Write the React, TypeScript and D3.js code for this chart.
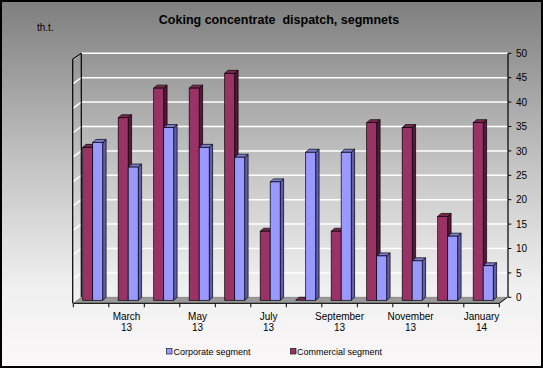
import React from "react";
import * as d3 from "d3";

const months = ["Feb 13", "Mar 13", "Apr 13", "May 13", "Jun 13", "Jul 13", "Aug 13", "Sep 13", "Oct 13", "Nov 13", "Dec 13", "Jan 14"];
const tickLabels: Record<string, [string, string]> = {
  "Mar 13": ["March", "13"],
  "May 13": ["May", "13"],
  "Jul 13": ["July", "13"],
  "Sep 13": ["September", "13"],
  "Nov 13": ["November", "13"],
  "Jan 14": ["January", "14"],
};
const commercial = [31, 37, 43, 43, 46, 14, 0, 14, 36, 35, 17, 36];
const corporate = [32, 27, 35, 31, 29, 24, 30, 30, 9, 8, 13, 7];
const yTicks = [0, 5, 10, 15, 20, 25, 30, 35, 40, 45, 50];

const W = 543, H = 368;
const DX = 8, DY = 6; // full depth of floor/walls
const BDX = 3.4, BDY = 3; // bar depth
const BAR_W = 10;
const BAR_OFF = 9.4;

const COLORS = {
  com: { front: "#993366", top: "#7a2950", side: "#55183a" },
  cor: { front: "#9999ff", top: "#7d7dd6", side: "#5f5fae" },
};

export default function App() {
  const x = d3.scaleBand<string>().domain(months).range([73.3, 499.3]).padding(0);
  const y = d3.scaleLinear().domain([0, 50]).range([297.3, 53.3]);
  const yBar = d3.scaleLinear().domain([0, 50]).range([300.3, 53.6]);
  const frontY = y(0) + DY;
  const x0 = x.range()[0];
  const x1 = x.range()[1];
  const backL = x0 + DX;
  const backR = x1 + DX;
  const barBottom = yBar(0);

  const bar = (xl: number, v: number, c: { front: string; top: string; side: string }, key: string) => {
    const yt = yBar(v);
    const top = `M${xl},${yt}L${xl + BAR_W},${yt}L${xl + BAR_W + BDX},${yt - BDY}L${xl + BDX},${yt - BDY}Z`;
    const side = `M${xl + BAR_W},${yt}L${xl + BAR_W + BDX},${yt - BDY}L${xl + BAR_W + BDX},${barBottom - BDY}L${xl + BAR_W},${barBottom}Z`;
    return (
      <g key={key}>
        {v > 0 && <path d={side} fill={c.side} stroke="#000" strokeWidth={0.7} />}
        <path d={top} fill={c.top} stroke="#000" strokeWidth={0.7} />
        {v > 0 && (
          <rect x={xl} y={yt} width={BAR_W} height={Math.max(0, barBottom - yt)} fill={c.front} stroke="#000" strokeWidth={0.7} />
        )}
      </g>
    );
  };

  const boundaries = d3.range(months.length + 1).map((i) => x0 + i * x.step());

  return (
    <svg width={W} height={H} style={{ position: "absolute", left: 0, top: 0 }} fontFamily="Arial, 'Liberation Sans', sans-serif">
      <defs>
        <linearGradient id="bg" x1="0" y1="0" x2="0" y2="1">
          <stop offset="0" stopColor="#7e7e7e" />
          <stop offset="0.45" stopColor="#c4c4c4" />
          <stop offset="0.78" stopColor="#f0f0f0" />
          <stop offset="1" stopColor="#fbf8fa" />
        </linearGradient>
      </defs>
      <rect x={0} y={0} width={W} height={H} fill="url(#bg)" />
      <rect x={1} y={1} width={W - 2} height={H - 2} fill="none" stroke="#000" strokeWidth={2} />

      <text x={279} y={24} textAnchor="middle" fontSize={12.5} fontWeight="bold" fill="#000" style={{ whiteSpace: "pre" }}>
        Coking concentrate  dispatch, segmnets
      </text>
      <text x={37} y={31} fontSize={10} fill="#000">th.t.</text>

      {/* gridlines on back wall and left wall */}
      {yTicks.filter((t) => t > 0).map((t) => (
        <g key={"g" + t}>
          <line x1={backL} x2={backR + 1} y1={y(t)} y2={y(t)} stroke="#fff" strokeWidth={1.5} />
          <line x1={x0} x2={backL} y1={y(t) + DY} y2={y(t)} stroke="#fff" strokeWidth={1.5} />
        </g>
      ))}

      {/* left wall edges */}
      <line x1={x0 - 0.6} x2={x0 - 0.6} y1={y(50) + DY} y2={frontY} stroke="#000" strokeWidth={1.2} />
      <line x1={backL} x2={backL} y1={y(50)} y2={y(0)} stroke="#000" strokeWidth={1.2} />
      <line x1={x0 - 0.6} x2={backL} y1={y(50) + DY} y2={y(50)} stroke="#000" strokeWidth={1.2} />

      {/* floor */}
      <path d={`M${x0},${frontY}L${x1},${frontY}L${backR},${y(0)}L${backL},${y(0)}Z`} fill="#999" stroke="#666" strokeWidth={0.5} />
      <line x1={x0} x2={x1} y1={frontY} y2={frontY} stroke="#000" strokeWidth={1} />
      <line x1={x1} x2={backR} y1={frontY} y2={y(0)} stroke="#000" strokeWidth={1} />
      {boundaries.map((bx, i) => (
        <line key={"t" + i} x1={bx} x2={bx} y1={frontY} y2={frontY + 4} stroke="#000" strokeWidth={1} />
      ))}

      {/* right value axis */}
      <line x1={backR + 0.7} x2={backR + 0.7} y1={y(50)} y2={y(0)} stroke="#000" strokeWidth={1.2} />
      {yTicks.map((t) => (
        <g key={"y" + t}>
          <line x1={backR + 0.7} x2={backR + 4} y1={y(t)} y2={y(t)} stroke="#000" strokeWidth={1} />
          <text x={516} y={y(t) + 3.6} fontSize={10} fill="#000">{t}</text>
        </g>
      ))}

      {/* bars */}
      {months.map((m, i) => {
        const bx = (x(m) as number) + BAR_OFF;
        return (
          <g key={m}>
            {bar(bx, commercial[i], COLORS.com, "c" + i)}
            {bar(bx + BAR_W, corporate[i], COLORS.cor, "p" + i)}
          </g>
        );
      })}

      {/* category labels */}
      {months.map((m) => {
        const lbl = tickLabels[m];
        if (!lbl) return null;
        const cx = (x(m) as number) + x.bandwidth() / 2;
        return (
          <g key={"l" + m}>
            <text x={cx} y={319.5} textAnchor="middle" fontSize={10} fill="#000">{lbl[0]}</text>
            <text x={cx} y={331} textAnchor="middle" fontSize={10} fill="#000">{lbl[1]}</text>
          </g>
        );
      })}

      {/* legend */}
      <rect x={166.5} y={348.5} width={5.5} height={5.5} fill={COLORS.cor.front} stroke="#000" strokeWidth={0.6} />
      <text x={173.5} y={355} fontSize={9} fill="#000">Corporate segment</text>
      <rect x={290.5} y={348.5} width={5.5} height={5.5} fill={COLORS.com.front} stroke="#000" strokeWidth={0.6} />
      <text x={297} y={355} fontSize={9} fill="#000">Commercial segment</text>
    </svg>
  );
}
